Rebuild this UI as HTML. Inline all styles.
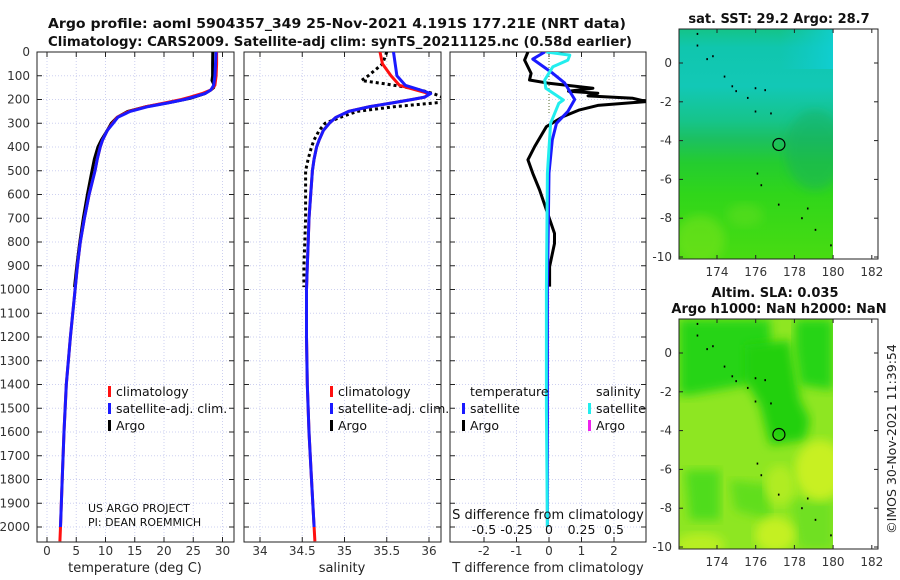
<!DOCTYPE html>
<html><head><meta charset="utf-8">
<style>
html,body{margin:0;padding:0;background:#fff;}
svg{display:block;font-family:"DejaVu Sans","Liberation Sans",sans-serif;}
</style></head>
<body>
<svg id="chart" width="900" height="580" viewBox="0 0 900 580" xmlns="http://www.w3.org/2000/svg">
<defs>
<linearGradient id="sstGrad" x1="0" y1="0" x2="0" y2="1">
<stop offset="0" stop-color="#14c488"/>
<stop offset="0.08" stop-color="#10c6ae"/>
<stop offset="0.25" stop-color="#12c8b6"/>
<stop offset="0.4" stop-color="#16c48a"/>
<stop offset="0.48" stop-color="#1cc060"/>
<stop offset="0.58" stop-color="#24cc30"/>
<stop offset="0.72" stop-color="#30d61a"/>
<stop offset="1" stop-color="#48dc12"/>
</linearGradient>
<linearGradient id="sstRight" x1="0" y1="0" x2="1" y2="0">
<stop offset="0" stop-color="#10c8d0" stop-opacity="0"/>
<stop offset="1" stop-color="#10d0d8" stop-opacity="0.8"/>
</linearGradient>
<filter id="blur4"><feGaussianBlur stdDeviation="5"/></filter>
<clipPath id="clipP1"><rect x="37" y="52" width="197" height="490"/></clipPath>
<clipPath id="clipP2"><rect x="244" y="52" width="197" height="490"/></clipPath>
<clipPath id="clipP3"><rect x="450" y="52" width="196" height="490"/></clipPath>
<clipPath id="clipM1"><rect x="679" y="29" width="154" height="230"/></clipPath>
<clipPath id="clipM2"><rect x="679" y="319" width="154" height="230"/></clipPath>
</defs>
<g id="root"></g>
</svg>
<script>
// ---------- data ----------
const depthTicks = [0,100,200,300,400,500,600,700,800,900,1000,1100,1200,1300,1400,1500,1600,1700,1800,1900,2000];
const tempTicks = [0,5,10,15,20,25,30];
const salTicks = [34,34.5,35,35.5,36];
const salTickLabels = ["34","34.5","35","35.5","36"];
const tdiffTicks = [-2,-1,0,1,2];
const sdiffTicks = [-0.5,-0.25,0,0.25,0.5];
const sdiffTickLabels = ["-0.5","-0.25","0","0.25","0.5"];
const lonTicks = [174,176,178,180,182];
const latTicks = [0,-2,-4,-6,-8,-10];

const climDepth = [0,50,100,140,160,175,190,200,215,230,250,275,300,330,370,400,450,500,600,700,800,900,1000,1200,1400,1600,1800,2000,2060];
const tempClim = [29.0,29.0,28.9,28.7,28.0,26.5,24.5,23.0,20.0,17.0,14.0,12.0,11.2,10.3,9.5,9.1,8.6,8.2,7.2,6.4,5.7,5.2,4.8,4.0,3.3,2.9,2.6,2.3,2.2];
const tempSat = [28.9,28.8,28.7,28.5,28.0,27.0,25.0,23.5,20.5,17.3,14.2,12.1,11.3,10.3,9.5,9.1,8.6,8.2,7.2,6.4,5.7,5.2,4.8,4.0,3.3,2.9,2.6,2.3,null];
const salClim = [35.42,35.45,35.55,35.65,35.85,36.0,35.95,35.8,35.55,35.3,35.05,34.9,34.82,34.75,34.7,34.67,34.64,34.62,34.6,34.58,34.57,34.56,34.55,34.55,34.56,34.58,34.61,34.64,34.65];
const salSat = [35.58,35.6,35.62,35.72,35.9,36.02,35.95,35.8,35.55,35.3,35.05,34.9,34.82,34.75,34.7,34.67,34.64,34.62,34.6,34.58,34.57,34.56,34.55,34.55,34.56,34.58,34.61,34.64,null];

const argoDepth = [0,50,100,120,135,150,160,175,195,210,230,250,275,300,330,370,400,450,500,600,700,800,900,990];
const tempArgo = [28.35,28.3,28.3,28.2,28.5,28.5,28.0,27.0,24.5,21.5,17.0,13.8,12.0,11.0,10.3,9.3,8.7,8.1,7.7,6.9,6.2,5.6,5.1,4.7];
const salArgo = [35.5,35.45,35.28,35.2,35.5,35.75,35.9,36.05,36.2,36.2,35.6,35.15,34.95,34.77,34.7,34.64,34.61,34.57,34.54,34.54,34.54,34.53,34.52,34.52];

const dSatTDepth = [0,30,90,130,200,250,300,370,510,1000,1500,2000];
const dSatT = [-0.13,-0.5,0.12,0.48,0.79,0.58,0.23,0.1,0,-0.05,-0.05,-0.05];
const dSatSDepth = [0,13,34,62,118,153,202,216,300,511,1000,1500,2000];
const dSatS = [-0.02,0.16,0.145,0.03,-0.033,-0.025,0.11,0.075,0.012,-0.012,-0.02,-0.02,-0.012];
const dArgoTDepth = [0,34,90,118,132,153,165,174,185,195,209,225,244,272,314,398,454,511,581,665,764,806,904,988];
const dArgoT = [-0.65,-0.75,-0.55,-0.6,0,1.35,0.6,1.5,1.2,2.58,3.0,1.5,0.94,0.43,-0.08,-0.44,-0.65,-0.5,-0.29,-0.08,0.17,0.17,0.02,0.02];

const argoLon = [177.2];
const argoLat = [-4.2];

// ---------- helpers ----------
const NS = "http://www.w3.org/2000/svg";
const root = document.getElementById('root');
function mk(tag, attrs, parent, text){
  const e = document.createElementNS(NS, tag);
  for (const k in attrs) e.setAttribute(k, attrs[k]);
  if (text !== undefined) e.textContent = text;
  (parent || root).appendChild(e);
  return e;
}
const yD = d => 52 + d * 0.2375;
const xT = t => 47 + t * 5.85;
const xS = s => 260 + (s - 34) * 84.5;
const xDT = v => 549 + v * 32.5;
const xDS = v => 549 + v * 130;
const xLon = l => 717 + (l - 174) * 19.35;
const yLat1 = l => 63 - l * 19.4;
const yLat2 = l => 353 - l * 19.4;

function pathFrom(depths, vals, xf){
  let d = "", started = false;
  for (let i = 0; i < depths.length; i++){
    if (vals[i] === null) continue;
    d += (started ? "L" : "M") + xf(vals[i]).toFixed(1) + "," + yD(depths[i]).toFixed(1);
    started = true;
  }
  return d;
}

function panel(name, x0, x1, ticks, labels, xf){
  const g = mk('g', {});
  
  
  ticks.forEach(t => {
    const gl = mk('line', {x1: xf(t), x2: xf(t), y1: 52, y2: 542, stroke: '#cdd0f0', 'stroke-width': 1, 'stroke-dasharray': '1,2'}, g);
    
    
  });
  depthTicks.forEach(d => {
    const gl = mk('line', {x1: x0, x2: x1, y1: yD(d), y2: yD(d), stroke: '#cdd0f0', 'stroke-width': 1, 'stroke-dasharray': '1,2'}, g);
    
    
    mk('line', {x1: x0, x2: x0 + 5, y1: yD(d), y2: yD(d), stroke: '#222'}, g);
    mk('line', {x1: x1 - 5, x2: x1, y1: yD(d), y2: yD(d), stroke: '#222'}, g);
  });
  ticks.forEach((t, i) => {
    mk('line', {x1: xf(t), x2: xf(t), y1: 542, y2: 537, stroke: '#222'}, g);
    mk('line', {x1: xf(t), x2: xf(t), y1: 52, y2: 57, stroke: '#222'}, g);
    const tl = mk('text', {x: xf(t), y: 555, 'font-size': 12, fill: '#333', 'text-anchor': 'middle'}, g, labels[i]);
    
    
  });
  const box = mk('rect', {x: x0, y: 52, width: x1 - x0, height: 490, fill: 'none', stroke: '#222', 'stroke-width': 1}, g);
  
  
  return g;
}

function series(name, depths, vals, xf, color, clip, dash){
  const p = mk('path', {d: pathFrom(depths, vals, xf), fill: 'none', stroke: color, 'stroke-width': 3, 'stroke-linejoin': 'round', 'clip-path': 'url(#' + clip + ')'});
  if (dash) p.setAttribute('stroke-dasharray', dash);
  
  
  return p;
}

function legendItem(name, x, y, color, label){
  const g = mk('g', {});
  
  
  mk('rect', {x: x, y: y - 10, width: 3, height: 11, fill: color}, g);
  mk('text', {x: x + 8, y: y, 'font-size': 12.5, fill: '#111'}, g, label);
}

// ---------- titles ----------
const t1 = mk('text', {x: 48, y: 28, 'font-size': 13.5, 'font-weight': 'bold', fill: '#111', textLength: 578, lengthAdjust: 'spacingAndGlyphs'}, root, 'Argo profile: aoml 5904357_349 25-Nov-2021 4.191S 177.21E (NRT data)');


const t2 = mk('text', {x: 48, y: 46, 'font-size': 13.5, 'font-weight': 'bold', fill: '#111', textLength: 584, lengthAdjust: 'spacingAndGlyphs'}, root, 'Climatology: CARS2009. Satellite-adj clim: synTS_20211125.nc (0.58d earlier)');



// depth labels
depthTicks.forEach(d => {
  const l = mk('text', {x: 30, y: yD(d) + 4, 'font-size': 12, fill: '#333', 'text-anchor': 'end'}, root, String(d));
  
  
});

// ---------- panel 1: temperature ----------
panel('temperature-panel', 37, 234, tempTicks, tempTicks.map(String), xT);
series('temperature-argo-line', argoDepth, tempArgo, xT, '#000', 'clipP1');
series('temperature-climatology-line', climDepth, tempClim, xT, '#ff1010', 'clipP1');
series('temperature-satellite-line', climDepth, tempSat, xT, '#1a1aff', 'clipP1');
legendItem('legend-climatology', 108, 396, '#ff1010', 'climatology');
legendItem('legend-satellite-adj', 108, 413, '#1a1aff', 'satellite-adj. clim.');
legendItem('legend-argo', 108, 430, '#000', 'Argo');
const pr1 = mk('text', {x: 88, y: 512, 'font-size': 11, fill: '#111'}, root, 'US ARGO PROJECT');


const pr2 = mk('text', {x: 88, y: 526, 'font-size': 11, fill: '#111'}, root, 'PI: DEAN ROEMMICH');


const xa1 = mk('text', {x: 135, y: 572, 'font-size': 13, fill: '#222', 'text-anchor': 'middle'}, root, 'temperature (deg C)');



// ---------- panel 2: salinity ----------
panel('salinity-panel', 244, 441, salTicks, salTickLabels, xS);
series('salinity-argo-line', argoDepth, salArgo, xS, '#000', 'clipP2', '3,3');
series('salinity-climatology-line', climDepth, salClim, xS, '#ff1010', 'clipP2');
series('salinity-satellite-line', climDepth, salSat, xS, '#1a1aff', 'clipP2');
legendItem('legend-climatology-2', 330, 396, '#ff1010', 'climatology');
legendItem('legend-satellite-adj-2', 330, 413, '#1a1aff', 'satellite-adj. clim.');
legendItem('legend-argo-2', 330, 430, '#000', 'Argo');
const xa2 = mk('text', {x: 342, y: 572, 'font-size': 13, fill: '#222', 'text-anchor': 'middle'}, root, 'salinity');



// ---------- panel 3: differences ----------
panel('difference-panel', 450, 646, tdiffTicks, tdiffTicks.map(String), xDT);
const zl = mk('line', {x1: xDT(0), x2: xDT(0), y1: 52, y2: yD(260), stroke: '#556b2f', 'stroke-width': 1, 'stroke-dasharray': '1,2'});


series('tdiff-argo-line', dArgoTDepth, dArgoT, xDT, '#000', 'clipP3');
series('tdiff-satellite-line', dSatTDepth, dSatT, xDT, '#1a1aff', 'clipP3');
series('sdiff-satellite-line', dSatSDepth, dSatS, xDS, '#22eeee', 'clipP3');
const lt = mk('text', {x: 470, y: 396, 'font-size': 12.5, fill: '#111'}, root, 'temperature');


const ls = mk('text', {x: 596, y: 396, 'font-size': 12.5, fill: '#111'}, root, 'salinity');


legendItem('legend-t-satellite', 462, 413, '#1a1aff', 'satellite');
legendItem('legend-t-argo', 462, 430, '#000', 'Argo');
legendItem('legend-s-satellite', 588, 413, '#22eeee', 'satellite');
legendItem('legend-s-argo', 588, 430, '#ee22ee', 'Argo');
const sdt = mk('text', {x: 548, y: 519, 'font-size': 13, fill: '#111', 'text-anchor': 'middle'}, root, 'S difference from climatology');


sdiffTicks.forEach((v, i) => {
  const l = mk('text', {x: xDS(v), y: 534, 'font-size': 12.5, fill: '#111', 'text-anchor': 'middle'}, root, sdiffTickLabels[i]);
  
  
});
const xa3 = mk('text', {x: 548, y: 572, 'font-size': 13, fill: '#222', 'text-anchor': 'middle'}, root, 'T difference from climatology');



// ---------- maps ----------
function mapAxes(name, top, bottom, yf){
  const g = mk('g', {});
  
  
  mk('rect', {x: 679, y: top, width: 199, height: bottom - top, fill: 'none', stroke: '#222'}, g);
  latTicks.forEach(l => {
    mk('line', {x1: 679, x2: 683, y1: yf(l), y2: yf(l), stroke: '#222'}, g);
    mk('line', {x1: 874, x2: 878, y1: yf(l), y2: yf(l), stroke: '#222'}, g);
    const t = mk('text', {x: 672, y: yf(l) + 4, 'font-size': 12, fill: '#333', 'text-anchor': 'end'}, g, String(l));
    
    
  });
  lonTicks.forEach(l => {
    mk('line', {x1: xLon(l), x2: xLon(l), y1: bottom, y2: bottom - 4, stroke: '#222'}, g);
    mk('line', {x1: xLon(l), x2: xLon(l), y1: top, y2: top + 4, stroke: '#222'}, g);
    const t = mk('text', {x: xLon(l), y: bottom + 17, 'font-size': 12, fill: '#333', 'text-anchor': 'middle'}, g, String(l));
    
    
  });
}
function islands(yf, parent){
  const pts = [[173.0,1.5],[173.0,0.9],[173.5,0.2],[173.8,0.35],[174.4,-0.7],[174.8,-1.2],[175.0,-1.45],[175.6,-1.8],[176.0,-1.3],[176.5,-1.4],[176.0,-2.5],[176.8,-2.6],[176.1,-5.7],[176.3,-6.3],[177.2,-7.3],[178.4,-8.0],[178.7,-7.5],[179.1,-8.6],[179.9,-9.4]];
  pts.forEach(p => mk('rect', {x: xLon(p[0]) - 1, y: yf(p[1]) - 1, width: 1.6, height: 2, fill: '#000'}, parent));
}

// map 1: SST
const m1 = mk('g', {'clip-path': 'url(#clipM1)'});


mk('rect', {x: 679, y: 29, width: 154, height: 230, fill: 'url(#sstGrad)'}, m1);
mk('rect', {x: 780, y: 29, width: 53, height: 40, fill: 'url(#sstRight)'}, m1);
mk('ellipse', {cx: 815, cy: 150, rx: 30, ry: 40, fill: '#18b060', opacity: 0.5, filter: 'url(#blur4)'}, m1);
mk('ellipse', {cx: 700, cy: 240, rx: 25, ry: 25, fill: '#80e41c', opacity: 0.5, filter: 'url(#blur4)'}, m1);
mk('ellipse', {cx: 745, cy: 215, rx: 18, ry: 12, fill: '#70e020', opacity: 0.4, filter: 'url(#blur4)'}, m1);
islands(yLat1, m1);
argoLon.forEach((l, i) => {
  const c = mk('ellipse', {cx: xLon(l), cy: yLat1(argoLat[i]), rx: 6, ry: 6, fill: 'none', stroke: '#000', 'stroke-width': 1.2});
  
  
});
mapAxes('sst-map-axes', 29, 259, yLat1);
const mt1 = mk('text', {x: 779, y: 23, 'font-size': 13, 'font-weight': 'bold', fill: '#111', 'text-anchor': 'middle'}, root, 'sat. SST: 29.2 Argo: 28.7');



// map 2: SLA
const m2 = mk('g', {'clip-path': 'url(#clipM2)'});


mk('rect', {x: 679, y: 319, width: 154, height: 230, fill: '#8ee622'}, m2);
mk('polygon', {points: '679,319 770,319 772,370 745,385 690,395 679,395', fill: '#28d414', filter: 'url(#blur4)'}, m2);
mk('polygon', {points: '745,345 790,340 800,400 810,420 805,440 770,445 760,405 745,380', fill: '#22d010', filter: 'url(#blur4)'}, m2);
mk('polygon', {points: '795,319 833,319 833,390 800,385 795,350', fill: '#28d414', filter: 'url(#blur4)'}, m2);
mk('polygon', {points: '685,470 720,470 720,520 690,520', fill: '#50dc1c', filter: 'url(#blur4)'}, m2);
mk('polygon', {points: '730,480 770,485 770,520 735,510', fill: '#60de1c', filter: 'url(#blur4)'}, m2);
mk('polygon', {points: '790,500 833,500 833,549 800,549', fill: '#70e020', filter: 'url(#blur4)'}, m2);
mk('ellipse', {cx: 820, cy: 470, rx: 25, ry: 30, fill: '#c8f020', filter: 'url(#blur4)'}, m2);
mk('ellipse', {cx: 775, cy: 535, rx: 20, ry: 18, fill: '#c4f020', filter: 'url(#blur4)'}, m2);
mk('ellipse', {cx: 700, cy: 545, rx: 25, ry: 12, fill: '#b8ee20', filter: 'url(#blur4)'}, m2);
mk('ellipse', {cx: 780, cy: 485, rx: 15, ry: 20, fill: '#b0ec20', filter: 'url(#blur4)'}, m2);
islands(yLat2, m2);
argoLon.forEach((l, i) => {
  const c = mk('ellipse', {cx: xLon(l), cy: yLat2(argoLat[i]), rx: 6, ry: 6, fill: 'none', stroke: '#000', 'stroke-width': 1.2});
  
  
});
mapAxes('sla-map-axes', 319, 549, yLat2);
const mt2 = mk('text', {x: 775, y: 297, 'font-size': 13, 'font-weight': 'bold', fill: '#111', 'text-anchor': 'middle'}, root, 'Altim. SLA: 0.035');


const mt3 = mk('text', {x: 779, y: 313, 'font-size': 13, 'font-weight': 'bold', fill: '#111', 'text-anchor': 'middle'}, root, 'Argo h1000: NaN h2000: NaN');



const cp = mk('text', {x: 0, y: 0, 'font-size': 12.5, fill: '#222', 'text-anchor': 'middle', transform: 'translate(896,439) rotate(-90)'}, root, '©IMOS 30-Nov-2021 11:39:54');


</script>
</body></html>
